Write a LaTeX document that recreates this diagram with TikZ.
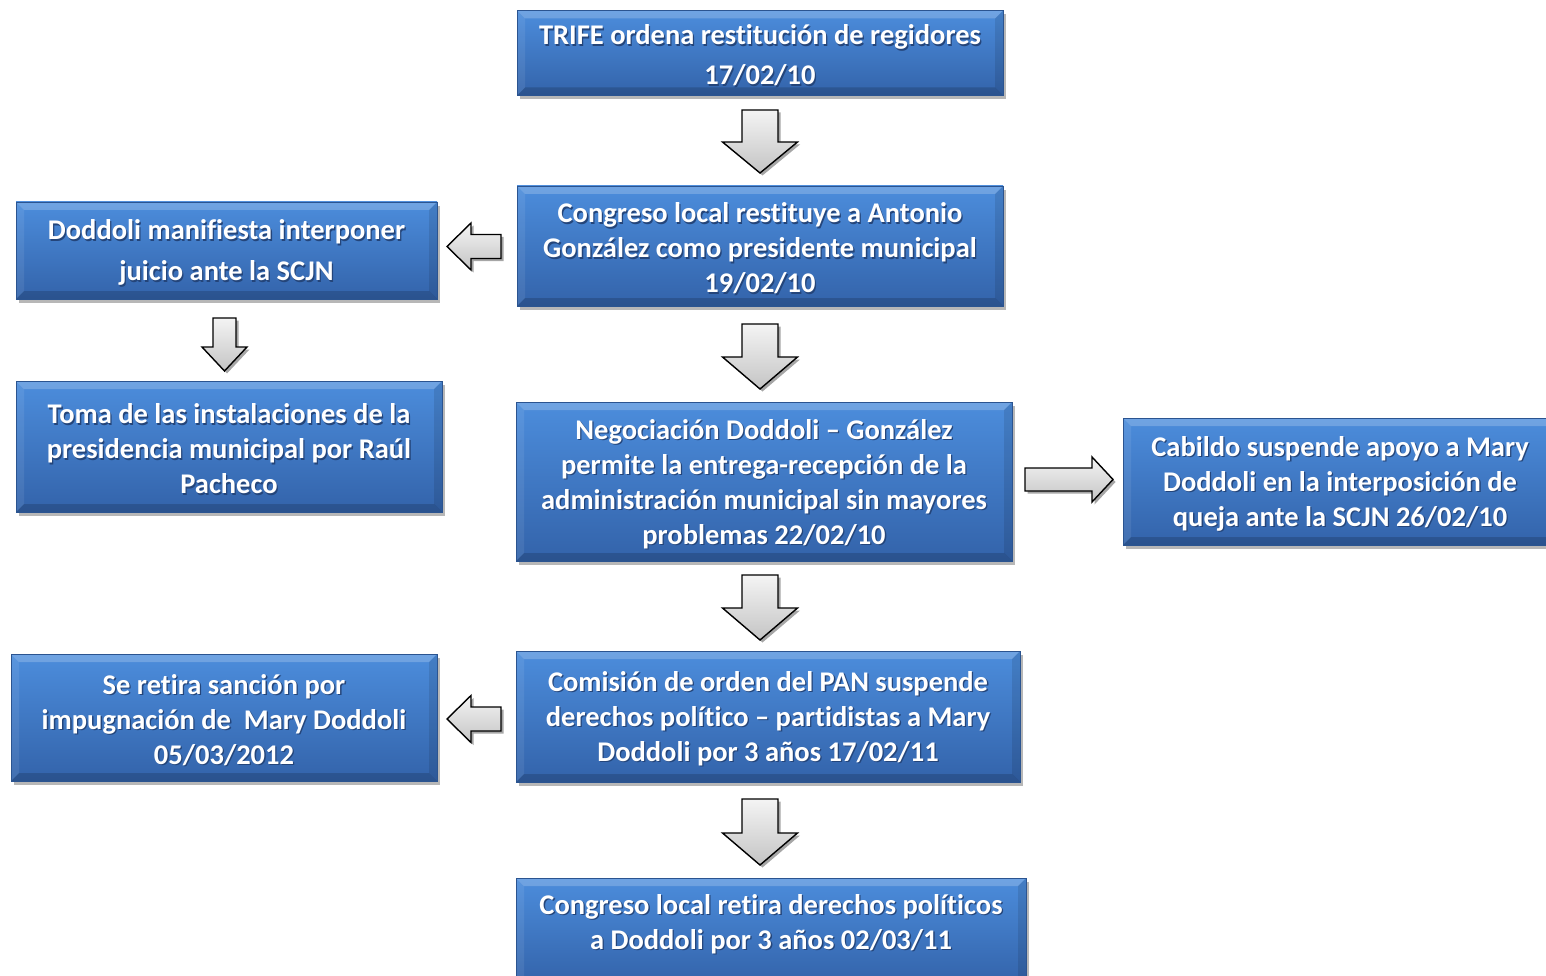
\documentclass[tikz,border=0pt]{standalone}
\usepackage{fontspec}
\setmainfont{Carlito}[Ligatures=NoCommon]
\usetikzlibrary{shadows}
\definecolor{boxtop}{HTML}{4C8DDC}
\definecolor{boxbot}{HTML}{3363AA}
\definecolor{arrtop}{HTML}{F4F4F4}
\definecolor{arrbot}{HTML}{C4C4C4}
\definecolor{txtshadow}{HTML}{24457A}
\newcommand\sh[1]{\raisebox{-3pt}[\height][\depth]{\rlap{\kern1.3pt\raisebox{-1.4pt}{\textcolor{txtshadow}{#1}}}#1}}
\tikzset{
  bevel/.style={path picture={
    \coordinate (bnw) at (path picture bounding box.north west);
    \coordinate (bne) at (path picture bounding box.north east);
    \coordinate (bsw) at (path picture bounding box.south west);
    \coordinate (bse) at (path picture bounding box.south east);
    \fill[white,opacity=0.20] (bnw) -- (bne) -- ([shift={(-8pt,-8pt)}]bne) -- ([shift={(8pt,-8pt)}]bnw) -- cycle;
    \fill[white,opacity=0.08] (bnw) -- ([shift={(8pt,-8pt)}]bnw) -- ([shift={(8pt,8pt)}]bsw) -- (bsw) -- cycle;
    \fill[black,opacity=0.10] (bne) -- ([shift={(-8pt,-8pt)}]bne) -- ([shift={(-8pt,8pt)}]bse) -- (bse) -- cycle;
    \fill[black,opacity=0.16] (bsw) -- ([shift={(8pt,8pt)}]bsw) -- ([shift={(-8pt,8pt)}]bse) -- (bse) -- cycle;
  }},
  bluebox/.style={rectangle, inner sep=0pt, top color=boxtop, bottom color=boxbot,
    draw=boxbot!85!black, line width=0.5pt, bevel,
    drop shadow={shadow xshift=3pt, shadow yshift=-4pt, opacity=0.35, fill=black!80},
    text=white, align=center, font={\fontsize{28.5}{35}\selectfont\bfseries}},
  boxtext/.style={text=white, align=center, font={\fontsize{28.5}{35}\selectfont\bfseries}},
  garrow/.style={draw=black, line width=1.4pt, line join=miter, top color=arrtop, bottom color=arrbot,
    drop shadow={shadow xshift=2.5pt, shadow yshift=-2.5pt, opacity=0.35, fill=black}},
}
% down arrow: cx, top, tip, half shaft, half head, head length
\newcommand\dnarrow[6]{\path[garrow] (#1-#4,#2) -- (#1+#4,#2) -- (#1+#4,#3-#6) -- (#1+#5,#3-#6) -- (#1,#3) -- (#1-#5,#3-#6) -- (#1-#4,#3-#6) -- cycle;}
% left arrow: cy, tip x, right x, half shaft, half head, head length
\newcommand\lfarrow[6]{\path[garrow] (#3,#1-#4) -- (#3,#1+#4) -- (#2+#6,#1+#4) -- (#2+#6,#1+#5) -- (#2,#1) -- (#2+#6,#1-#5) -- (#2+#6,#1-#4) -- cycle;}
% right arrow: cy, left x, tip x, half shaft, half head, head length
\newcommand\rtarrow[6]{\path[garrow] (#2,#1-#4) -- (#2,#1+#4) -- (#3-#6,#1+#4) -- (#3-#6,#1+#5) -- (#3,#1) -- (#3-#6,#1-#5) -- (#3-#6,#1-#4) -- cycle;}
\begin{document}
\begin{tikzpicture}[x=1pt,y=-1pt]
\useasboundingbox (0,0) rectangle (1546,976);
\clip (0,0) rectangle (1546,976);
\fill[white] (0,0) rectangle (1546,976);

\node[bluebox, minimum width=486, minimum height=85, font={\fontsize{28.5}{40}\selectfont\bfseries}] (trife) at (760,53)
  {\sh{TRIFE ordena restitución de regidores}\\\sh{17/02/10}};
\node[bluebox, minimum width=486, minimum height=120] (restituye) at (760,246)
  {\sh{Congreso local restituye a Antonio}\\\sh{González como presidente municipal}\\\sh{19/02/10}};
\node[bluebox, minimum width=421, minimum height=97, font={\fontsize{28.5}{41}\selectfont\bfseries}] (manifiesta) at (226.5,250.5)
  {\sh{Doddoli manifiesta interponer}\\\sh{juicio ante la SCJN}};
\node[bluebox, minimum width=426, minimum height=131] (toma) at (229,446.5)
  {\sh{Toma de las instalaciones de la}\\\sh{presidencia municipal por Raúl}\\\sh{Pacheco}};
\node[bluebox, minimum width=496, minimum height=159] (negociacion) at (764,481.5)
  {\sh{Negociación Doddoli – González}\\\sh{permite la entrega-recepción de la}\\\sh{administración municipal sin mayores}\\\sh{problemas 22/02/10}};
\node[bluebox, minimum width=434, minimum height=127] (cabildo) at (1340,481.5)
  {\sh{Cabildo suspende apoyo a Mary}\\\sh{Doddoli en la interposición de}\\\sh{queja ante la SCJN 26/02/10}};
\node[bluebox, minimum width=504, minimum height=131] (comision) at (768,716.5)
  {\sh{Comisión de orden del PAN suspende}\\\sh{derechos político – partidistas a Mary}\\\sh{Doddoli por 3 años 17/02/11}};
\node[bluebox, minimum width=426, minimum height=127] (sancion) at (224,717.5)
  {\sh{Se retira sanción por}\\\sh{impugnación de \ Mary Doddoli}\\\sh{05/03/2012}};
\node[bluebox, minimum width=510, minimum height=106] (retira) at (771,931) {};
\node[boxtext] (retiratext) at (771,921.5)
  {\sh{Congreso local retira derechos políticos}\\\sh{a Doddoli por 3 años 02/03/11}};

% block arrows
\dnarrow{760}{110}{173}{18}{37.5}{31}
\dnarrow{760}{324}{389}{18}{37.5}{32}
\dnarrow{760}{575}{640}{18}{37.5}{32}
\dnarrow{760}{799}{865}{18}{37.5}{32}
\dnarrow{224.5}{318}{371}{11.5}{22.5}{24}
\lfarrow{246.5}{447}{501}{12}{23.5}{24}
\lfarrow{719}{447}{501}{12}{23.5}{24}
\rtarrow{479.5}{1025}{1113}{11.5}{22.5}{21}
\end{tikzpicture}
\end{document}
